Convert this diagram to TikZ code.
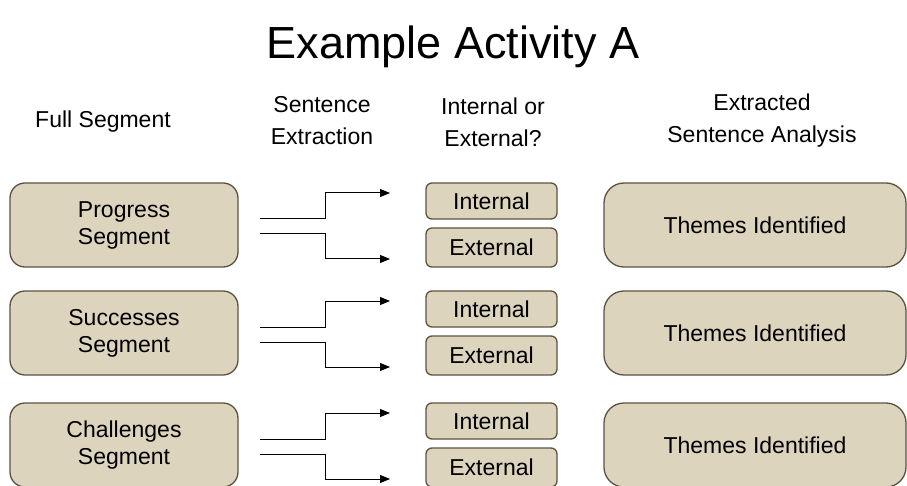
\documentclass[tikz,border=0pt]{standalone}
\usepackage{fontspec}
\setmainfont{Liberation Sans}
\usepackage{tikz}
\usetikzlibrary{arrows.meta}

\definecolor{segfill}{RGB}{221,212,190}
\definecolor{segdraw}{RGB}{92,82,66}

\tikzset{
  box/.style={draw=segdraw, fill=segfill, line width=1.3pt, align=center,
    font=\fontsize{23}{27}\selectfont, inner sep=0pt},
  segbox/.style={box, minimum width=228pt, minimum height=84pt, rounded corners=15pt},
  ietag/.style={box, minimum width=131pt, rounded corners=6pt},
  themebox/.style={box, minimum width=302pt, minimum height=84pt, rounded corners=20pt},
  head/.style={align=center, font=\fontsize{23}{32}\selectfont},
  flow/.style={draw=black, line width=1pt, -{Triangle[length=10pt,width=8pt]}}
}

\begin{document}
\begin{tikzpicture}[x=1pt, y=-1pt]
  \useasboundingbox (0,0) rectangle (907,486);

  \node[font=\fontsize{45}{50}\selectfont] (title) at (453,47) {Example Activity A};

  % column headings
  \node[head] (hfull) at (103,122) {Full Segment};
  \node[head] (hsent) at (322,121) {Sentence\\Extraction};
  \node[head] (hie)   at (493,122) {Internal or\\External?};
  \node[head] (hana)  at (762,121) {Extracted\\Sentence Analysis};

  % one row per segment
  \foreach \seg/\t in {Progress/183, Successes/291, Challenges/403} {
    \node[segbox]   (seg\t) at (124,\t+42)    {\seg\\Segment};
    \node[ietag, minimum height=36pt] (int\t) at (491.5,\t+18) {Internal};
    \node[ietag, minimum height=39pt] (ext\t) at (491.5,\t+64.5) {External};
    \node[themebox] (thm\t) at (755,\t+42)    {Themes Identified};

    \coordinate (ups\t) at (260,\t+36);
    \coordinate (upe\t) at (390,\t+10);
    \coordinate (dns\t) at (260,\t+51);
    \coordinate (dne\t) at (390,\t+76);
    \draw[flow] (ups\t) -- ++(65,0) |- (upe\t);
    \draw[flow] (dns\t) -- ++(65,0) |- (dne\t);
  }
\end{tikzpicture}
\end{document}
